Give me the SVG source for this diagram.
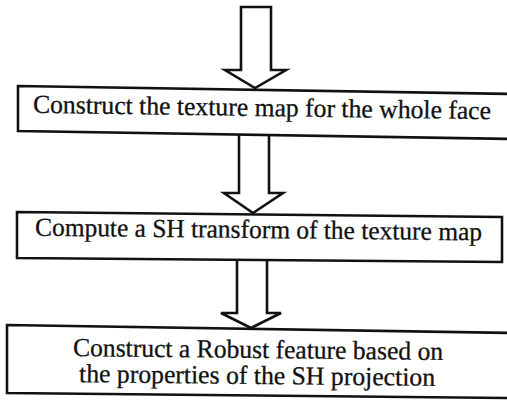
<svg xmlns="http://www.w3.org/2000/svg" width="507" height="401" viewBox="0 0 507 401">
  <style>
    .box { fill: #ffffff; stroke: #111111; stroke-width: 2.6; stroke-linejoin: miter; }
    .arrow { fill: #ffffff; stroke: #111111; stroke-width: 2.6; stroke-linejoin: miter; }
    .label { font-family: "Liberation Serif", "Times New Roman", serif; font-size: 26px; fill: #111111; stroke: #111111; stroke-width: 0.3; }
  </style>
  <rect width="507" height="401" fill="#ffffff"/>

  <!-- block arrows between the steps -->
  <g id="connectors">
    <polygon class="arrow" points="241,7 271,7 271,70 286,70 255,88 225,70 241,70"/>
    <polygon class="arrow" points="239,131 269,131 269,193 283,193 253,213 224,193 239,193"/>
    <polygon class="arrow" points="237,259 267,259 267,313 281,313 251,328 221,313 237,313"/>
  </g>

  <g id="step1">
    <polygon class="box" points="18,86 512,94 512,139 18,131"/>
    <text class="label" x="33" y="116" textLength="458" lengthAdjust="spacingAndGlyphs" transform="rotate(0.8 262 110)">Construct the texture map for the whole face</text>
  </g>

  <g id="step2">
    <polygon class="box" points="17,212 502,217 502,262 17,258"/>
    <text class="label" x="35" y="238" textLength="447" lengthAdjust="spacingAndGlyphs" transform="rotate(0.6 258 234)">Compute a SH transform of the texture map</text>
  </g>

  <g id="step3">
    <polygon class="box" points="7,325 512,333 512,398 7,393"/>
    <text class="label" x="73" y="358" textLength="370" lengthAdjust="spacingAndGlyphs" transform="rotate(0.6 258 357)">Construct a Robust feature based on</text>
    <text class="label" x="79" y="384" textLength="356" lengthAdjust="spacingAndGlyphs" transform="rotate(0.6 258 383)">the properties of the SH projection</text>
  </g>
</svg>
